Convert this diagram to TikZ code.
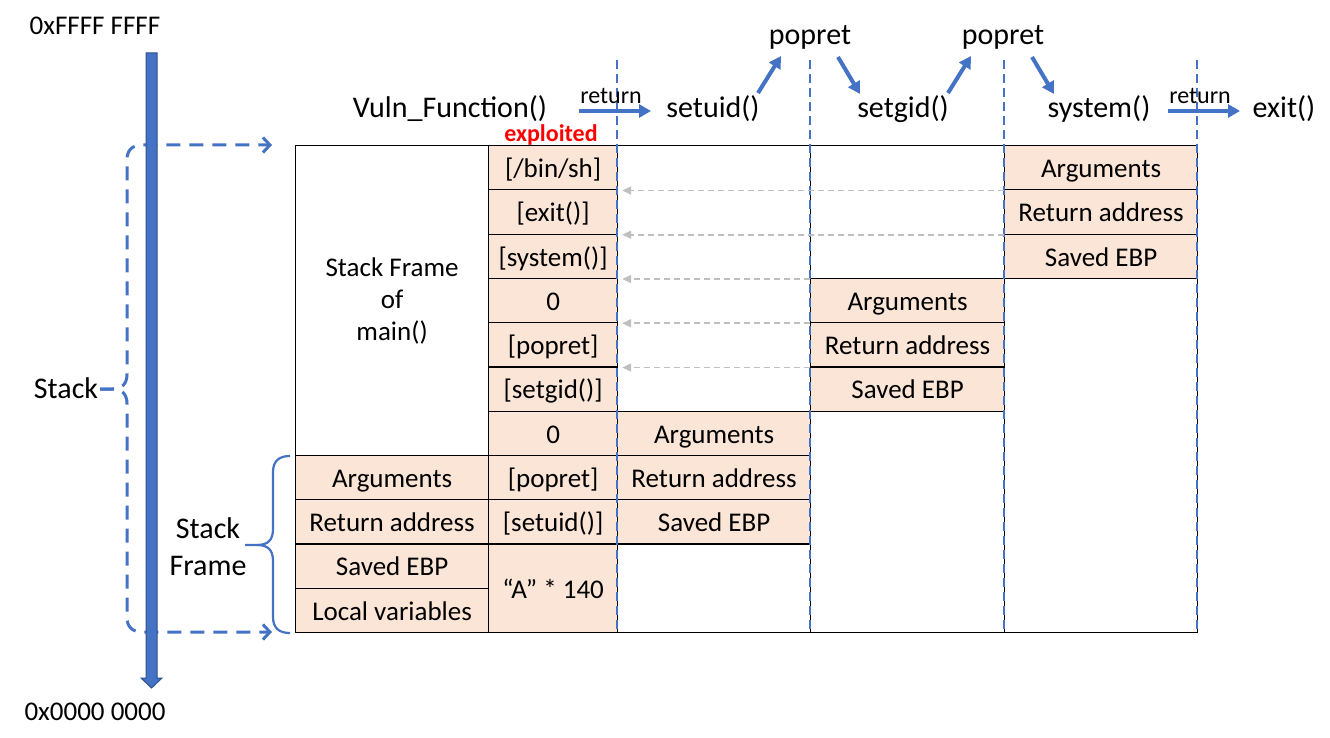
\documentclass[tikz,border=0pt]{standalone}
\usepackage{fontspec}
\setmainfont{Carlito}
\usetikzlibrary{arrows.meta}
\definecolor{oblue}{HTML}{4472C4}
\definecolor{dblue}{HTML}{2F528F}
\definecolor{peach}{HTML}{FBE5D6}
\definecolor{lgray}{HTML}{BFBFBF}
\newcommand\fcell{\fontsize{27}{32}\selectfont}
\def\rh{44.27}
\begin{document}
\begin{tikzpicture}[x=1pt,y=-1pt,
  cellbox/.style={draw=black, line width=1.2pt, inner sep=0pt, anchor=north west, align=center, font=\fcell},
  pk/.style={cellbox, fill=peach, text height=20pt, text depth=0.5pt},
  wh/.style={cellbox, fill=white},
  rows/.style={minimum height={(#1)*\rh*1pt}},
  cw/.style={minimum width=#1pt},
  toplbl/.style={font=\fontsize{30}{36}\selectfont, anchor=base, inner sep=0pt},
  retlbl/.style={font=\fontsize{24}{28}\selectfont, anchor=base, inner sep=0pt},
  addrlbl/.style={font=\fontsize{27}{32}\selectfont, anchor=base, inner sep=0pt},
  barrow/.style={draw=oblue, line width=4pt, -{Triangle[length=12pt,width=13pt]}},
  garrow/.style={draw=lgray, line width=1.8pt, dash pattern=on 6pt off 4pt, -{Triangle[length=9pt,width=8pt]}},
  vdash/.style={draw=oblue, line width=1.6pt, dash pattern=on 9pt off 5pt},
  bigbrace/.style={draw=oblue, line width=3pt, dash pattern=on 14pt off 9pt, -{Straight Barb[length=7pt,width=15pt]}},
  framebrace/.style={draw=oblue, line width=2.2pt},
]
\useasboundingbox (0,0) rectangle (1330,738);

% ---- big dashed stack brace (behind the bar)
\coordinate (stTip) at (100,389);
\coordinate (stTop) at (272,145);
\coordinate (stBot) at (272,632);
\draw[bigbrace] (stTip) -- (112,389) .. controls (122,389) and (127,384) .. (127,374) -- (127,160) .. controls (127,150) and (132,145) .. (143,145) -- (stTop);
\draw[bigbrace] (stTip) -- (112,389) .. controls (122,389) and (127,394) .. (127,404) -- (127,617) .. controls (127,627) and (132,632) .. (143,632) -- (stBot);

% ---- address bar
\filldraw[fill=oblue, draw=dblue, line width=1pt] (146,53) -- (157,53) -- (157,678) -- (162,678) -- (151.5,688) -- (141,678) -- (146,678) -- cycle;
\node[addrlbl] (hiaddr) at (95,35) {0xFFFF FFFF};
\node[addrlbl] (loaddr) at (95,720) {0x0000 0000};
\node[toplbl] (stacklbl) at (66,398) {Stack};

% ---- stack frame brace
\node[font=\fontsize{30}{37}\selectfont, align=center, inner sep=0pt] (sflbl) at (208,547) {Stack\\Frame};
\draw[framebrace] (290,456) .. controls (279,456) and (273,461) .. (273,472) -- (273,529) .. controls (273,540) and (268,545) .. (257,545) -- (245,545);
\draw[framebrace] (257,545) .. controls (268,545) and (273,550) .. (273,561) -- (273,617) .. controls (273,628) and (279,633) .. (290,633);

% ---- column A
\node[wh, cw=193, rows=7] (aMain) at (295,145) {Stack Frame\\of\\main()};
\node[pk, cw=193, rows=1] (aArg) at (295,{145+7*\rh}) {Arguments};
\node[pk, cw=193, rows=1] (aRet) at (295,{145+8*\rh}) {Return address};
\node[pk, cw=193, rows=1] (aEbp) at (295,{145+9*\rh}) {Saved EBP};
\node[pk, cw=193, rows=1] (aLoc) at (295,{145+10*\rh}) {Local variables};

% ---- column B (exploited)
\node[pk, cw=129, rows=1] (bBin) at (488,{145+0*\rh}) {[/bin/sh]};
\node[pk, cw=129, rows=1] (bExit) at (488,{145+1*\rh}) {[exit()]};
\node[pk, cw=129, rows=1] (bSys) at (488,{145+2*\rh}) {[system()]};
\node[pk, cw=129, rows=1] (bZeroA) at (488,{145+3*\rh}) {0};
\node[pk, cw=129, rows=1] (bPopA) at (488,{145+4*\rh}) {[popret]};
\node[pk, cw=129, rows=1] (bSetgid) at (488,{145+5*\rh}) {[setgid()]};
\node[pk, cw=129, rows=1] (bZeroB) at (488,{145+6*\rh}) {0};
\node[pk, cw=129, rows=1] (bPopB) at (488,{145+7*\rh}) {[popret]};
\node[pk, cw=129, rows=1] (bSetuid) at (488,{145+8*\rh}) {[setuid()]};
\node[pk, cw=129, rows=2] (bFill) at (488,{145+9*\rh}) {“A” * 140};
\node[font=\bfseries\fontsize{24}{26}\selectfont, text=red, anchor=base, inner sep=0pt] (exploited) at (551,142) {exploited};

% ---- column C (setuid)
\node[wh, cw=193, rows=6] (cTop) at (617,145) {};
\node[pk, cw=193, rows=1] (cArg) at (617,{145+6*\rh}) {Arguments};
\node[pk, cw=193, rows=1] (cRet) at (617,{145+7*\rh}) {Return address};
\node[pk, cw=193, rows=1] (cEbp) at (617,{145+8*\rh}) {Saved EBP};
\node[wh, cw=193, rows=2] (cBot) at (617,{145+9*\rh}) {};

% ---- column D (setgid)
\node[wh, cw=194, rows=3] (dTop) at (810,145) {};
\node[pk, cw=194, rows=1] (dArg) at (810,{145+3*\rh}) {Arguments};
\node[pk, cw=194, rows=1] (dRet) at (810,{145+4*\rh}) {Return address};
\node[pk, cw=194, rows=1] (dEbp) at (810,{145+5*\rh}) {Saved EBP};
\node[wh, cw=194, rows=5] (dBot) at (810,{145+6*\rh}) {};

% ---- column E (system)
\node[pk, cw=193, rows=1] (eArg) at (1004,145) {Arguments};
\node[pk, cw=193, rows=1] (eRet) at (1004,{145+1*\rh}) {Return address};
\node[pk, cw=193, rows=1] (eEbp) at (1004,{145+2*\rh}) {Saved EBP};
\node[wh, cw=193, rows=8] (eBot) at (1004,{145+3*\rh}) {};

% ---- blue dashed column separators
\coordinate (v1t) at (617,60); \coordinate (v1b) at (617,632);
\coordinate (v2t) at (810,60); \coordinate (v2b) at (810,632);
\coordinate (v3t) at (1004,60); \coordinate (v3b) at (1004,632);
\coordinate (v4t) at (1197,60); \coordinate (v4b) at (1197,632);
\draw[vdash] (v1t) -- (v1b);
\draw[vdash] (v2t) -- (v2b);
\draw[vdash] (v3t) -- (v3b);
\draw[vdash] (v4t) -- (v4b);

% ---- gray pointer arrows
\draw[garrow, shorten >=4pt] (eArg.south west) -- (bBin.south east);
\draw[garrow, shorten >=4pt] (eRet.south west) -- (bExit.south east);
\draw[garrow, shorten >=4pt] (dTop.south west) -- (bSys.south east);
\draw[garrow, shorten >=4pt] (dArg.south west) -- (bZeroA.south east);
\draw[garrow, shorten >=4pt] (dRet.south west) -- (bPopA.south east);

% ---- top function labels
\node[toplbl] (vuln) at (450,118) {Vuln\_Function()};
\node[toplbl] (setuid) at (713,118) {setuid()};
\node[toplbl] (popA) at (810,45) {popret};
\node[toplbl] (setgid) at (903,118) {setgid()};
\node[toplbl] (popB) at (1003,45) {popret};
\node[toplbl] (system) at (1099,118) {system()};
\node[toplbl] (exit) at (1284,118) {exit()};
\node[retlbl] (retA) at (611,104) {return};
\node[retlbl] (retB) at (1200,104) {return};

\coordinate (a1s) at (579,111); \coordinate (a1e) at (651,111);
\coordinate (a2s) at (758,93);  \coordinate (a2e) at (781,56);
\coordinate (a3s) at (838,57);  \coordinate (a3e) at (860,94);
\coordinate (a4s) at (948,93);  \coordinate (a4e) at (971,56);
\coordinate (a5s) at (1032,57); \coordinate (a5e) at (1054,94);
\coordinate (a6s) at (1168,111); \coordinate (a6e) at (1240,111);
\draw[barrow] (a1s) -- (a1e);
\draw[barrow] (a2s) -- (a2e);
\draw[barrow] (a3s) -- (a3e);
\draw[barrow] (a4s) -- (a4e);
\draw[barrow] (a5s) -- (a5e);
\draw[barrow] (a6s) -- (a6e);
\end{tikzpicture}
\end{document}
